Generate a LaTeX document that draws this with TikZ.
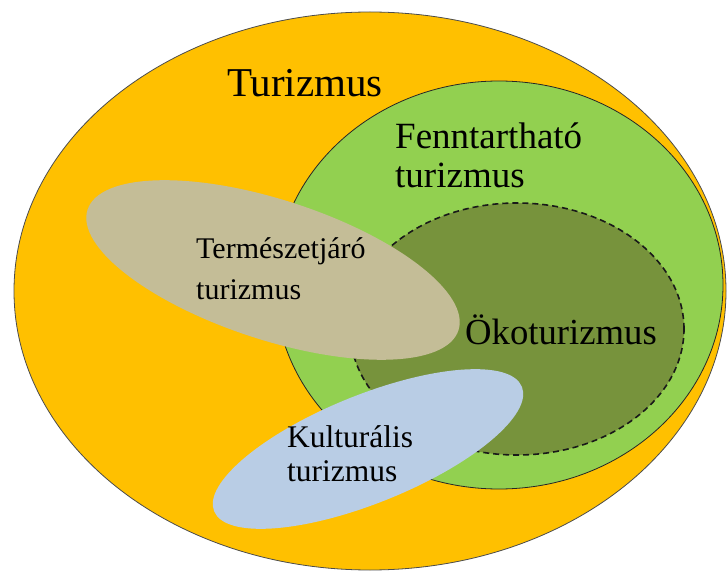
\documentclass[tikz,border=0pt]{standalone}
\usepackage{fontspec}
\setmainfont{Liberation Serif}
\usepackage{tikz}
\usetikzlibrary{positioning}

\definecolor{narancs}{HTML}{FFC000}
\definecolor{zold}{HTML}{92D050}
\definecolor{olivazold}{HTML}{77933C}
\definecolor{bezs}{HTML}{C4BD97}
\definecolor{kekes}{HTML}{B9CDE5}

\begin{document}
\begin{tikzpicture}[x=1pt,y=1pt,
		cimke/.style={anchor=base west, inner sep=0pt, text=black}]
				\useasboundingbox (0,0) rectangle (728,571);
				%Nodes
				\coordinate      (c0) 	at 	(370,280);
				\coordinate      (c1) 	at 	(499,286);
				\coordinate      (c2) 	at 	(517,242);
				\coordinate      (c3) 	at 	(273,301);
				\coordinate      (c4) 	at 	(368,122);

				%Ellipses
				\draw[fill=narancs, draw=black!70, line width=0.8pt] (c0) ellipse (356 and 279);
				\draw[fill=zold, draw=black!85, line width=0.8pt] (c1) ellipse (224 and 204);
				\draw[fill=olivazold, draw=black!90, line width=1.6pt, dash pattern=on 6pt off 4pt] (c2) ellipse (167 and 126);
				\fill[bezs, rotate around={-18:(c3)}] (c3) ellipse (195 and 70);
				\fill[kekes, rotate around={22:(c4)}] (c4) ellipse (166 and 54);

				%Labels
				\node[cimke, font=\fontsize{41}{41}\selectfont] (tur) at (227,474) {Turizmus};
				\node[cimke, font=\fontsize{37}{37}\selectfont] (fenn1) at (395,422) {Fenntartható};
				\node[cimke, font=\fontsize{37}{37}\selectfont] (fenn2) at (395,383) {turizmus};
				\node[cimke, font=\fontsize{30}{30}\selectfont] (term1) at (196,312) {Természetjáró};
				\node[cimke, font=\fontsize{30}{30}\selectfont] (term2) at (196,271) {turizmus};
				\node[cimke, font=\fontsize{36.7}{36.7}\selectfont] (oko) at (465,227) {Ökoturizmus};
				\node[cimke, font=\fontsize{31.5}{31.5}\selectfont] (kult1) at (287,124) {Kulturális};
				\node[cimke, font=\fontsize{31.5}{31.5}\selectfont] (kult2) at (287,90) {turizmus};
\end{tikzpicture}
\end{document}
